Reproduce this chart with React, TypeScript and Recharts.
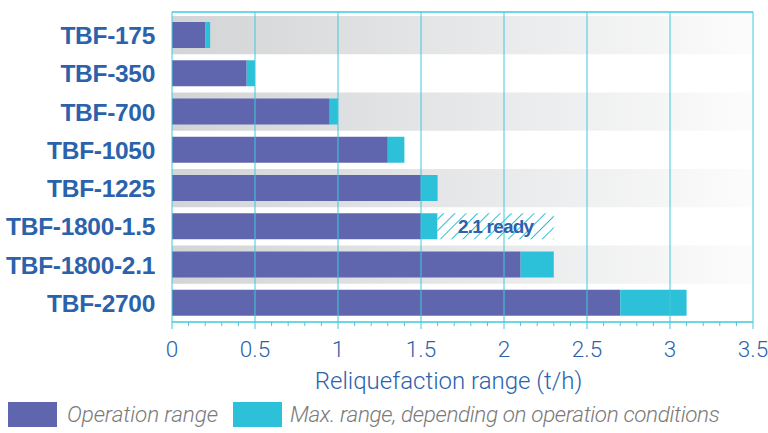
import React from 'react';
import { BarChart, Bar, XAxis, YAxis, ReferenceArea, ReferenceLine, Legend, LabelList } from 'recharts';

const categories = ['TBF-175', 'TBF-350', 'TBF-700', 'TBF-1050', 'TBF-1225', 'TBF-1800-1.5', 'TBF-1800-2.1', 'TBF-2700'];
const operationRange = [0.2, 0.45, 0.95, 1.3, 1.5, 1.5, 2.1, 2.7];
const maxRange = [0.23, 0.5, 1.0, 1.4, 1.6, 1.6, 2.3, 3.1];
const readyRange: (number | null)[] = [null, null, null, null, null, 2.3, null, null];
const readyLabels = ['', '', '', '', '', '2.1 ready', '', ''];
const shadedRows = ['TBF-175', 'TBF-700', 'TBF-1225', 'TBF-1800-2.1'];
const xTicks = [0, 0.5, 1, 1.5, 2, 2.5, 3, 3.5];
const xTickLabels = ['0', '0.5', '1', '1.5', '2', '2.5', '3', '3.5'];
const minorTicks = Array.from({ length: 36 }, (_, i) => Math.round(i) / 10);

const PURPLE = '#6066ae';
const CYAN = '#2cc1d9';
const GRID = '#3ec8dc';
const BLUE = '#2b62ab';

const data = categories.map((name, i) => ({
  name,
  op: operationRange[i],
  extra: +(maxRange[i] - operationRange[i]).toFixed(3),
  ready: readyRange[i] != null ? +((readyRange[i] as number) - maxRange[i]).toFixed(3) : 0,
  readyLabel: readyLabels[i],
}));

const BottomTick = (props: any) => {
  const { x, y, payload } = props;
  const v = payload.value;
  const idx = xTicks.findIndex((t) => Math.abs(t - v) < 1e-6);
  const major = idx >= 0;
  return (
    <g>
      <line x1={x} x2={x} y1={y} y2={y + (major ? 7 : 4)} stroke={GRID} strokeWidth={1} />
      {major && (
        <text x={x} y={y + 35} textAnchor="middle" fill={BLUE} fontFamily="Roboto" fontWeight={300} fontSize={22.5}>
          {xTickLabels[idx]}
        </text>
      )}
    </g>
  );
};

const YTick = (props: any) => {
  const { x, y, payload } = props;
  return (
    <text x={x} y={y + 9} textAnchor="end" fill={BLUE} fontFamily="Liberation Sans" fontWeight={700} fontSize={24.5} letterSpacing={-0.3}>
      {payload.value}
    </text>
  );
};

const renderLegend = () => (
  <div style={{ display: 'flex', alignItems: 'center', height: 38, paddingLeft: 8, fontFamily: 'Roboto', fontStyle: 'italic', fontWeight: 300, fontSize: 22.5, color: '#7a7a7a', letterSpacing: -0.1, whiteSpace: 'nowrap' }}>
    <div style={{ display: 'flex', alignItems: 'center', width: 225 }}>
      <div style={{ width: 49, height: 25, background: PURPLE, marginRight: 10, flexShrink: 0 }} />
      <span>Operation range</span>
    </div>
    <div style={{ display: 'flex', alignItems: 'center' }}>
      <div style={{ width: 49, height: 25, background: CYAN, marginRight: 8, flexShrink: 0 }} />
      <span style={{ letterSpacing: -0.37 }}>Max. range, depending on operation conditions</span>
    </div>
  </div>
);

export default function App() {
  return (
    <div style={{ position: 'absolute', left: 0, top: 0, width: 768, height: 433, background: '#fff' }}>
      <BarChart
        width={768}
        height={433}
        data={data}
        layout="vertical"
        margin={{ top: 0, right: 15, bottom: 0, left: 0 }}
        barSize={26}
      >
        <defs>
          <linearGradient id="bandGrad" x1="0" y1="0" x2="1" y2="0">
            <stop offset="0%" stopColor="#d3d4d6" />
            <stop offset="60%" stopColor="#eaebec" />
            <stop offset="100%" stopColor="#fcfcfc" />
          </linearGradient>
          <pattern id="hatch" patternUnits="userSpaceOnUse" width="8" height="8" patternTransform="rotate(45)">
            <rect width="8" height="8" fill="#ffffff" />
            <line x1="0" y1="0" x2="0" y2="8" stroke={CYAN} strokeWidth={2} />
          </pattern>
        </defs>
        <XAxis
          xAxisId="top"
          orientation="top"
          type="number"
          domain={[0, 3.5]}
          ticks={minorTicks}
          interval={0}
          height={12}
          tick={false}
          tickSize={3}
          tickLine={{ stroke: GRID }}
          axisLine={{ stroke: GRID, strokeWidth: 1.5 }}
        />
        <XAxis
          xAxisId="bottom"
          orientation="bottom"
          type="number"
          domain={[0, 3.5]}
          ticks={minorTicks}
          interval={0}
          height={73}
          tickSize={0}
          tickMargin={0}
          tickLine={false}
          tick={<BottomTick />}
          axisLine={{ stroke: GRID, strokeWidth: 1.5 }}
          label={{ value: 'Reliquefaction range (t/h)', position: 'insideBottom', offset: 6, dx: -14, fill: BLUE, fontFamily: 'Roboto', fontWeight: 300, fontSize: 24 }}
        />
        <YAxis
          type="category"
          dataKey="name"
          width={172}
          tickSize={0}
          tickMargin={17}
          tickLine={false}
          axisLine={false}
          interval={0}
          padding={{ top: 4, bottom: 0 }}
          tick={<YTick />}
        />
        {shadedRows.map((r) => (
          <ReferenceArea key={r} xAxisId="bottom" y1={r} y2={r} x1={0} x2={3.5} fill="url(#bandGrad)" fillOpacity={1} stroke="none" ifOverflow="visible" />
        ))}
        <Bar dataKey="op" stackId="a" xAxisId="bottom" fill={PURPLE} isAnimationActive={false} />
        <Bar dataKey="extra" stackId="a" xAxisId="bottom" fill={CYAN} isAnimationActive={false} />
        <Bar dataKey="ready" stackId="a" xAxisId="bottom" fill="url(#hatch)" isAnimationActive={false}>
          <LabelList dataKey="readyLabel" position="center" fill={BLUE} fontFamily="Liberation Sans" fontWeight={700} fontSize={19} letterSpacing={-0.8} />
        </Bar>
        {xTicks.map((t) => (
          <ReferenceLine key={t} xAxisId="bottom" x={t} stroke={GRID} strokeWidth={1} ifOverflow="visible" />
        ))}
        <Legend verticalAlign="bottom" content={renderLegend} wrapperStyle={{ left: 0, bottom: 0, width: 768, height: 38 }} />
      </BarChart>
    </div>
  );
}
